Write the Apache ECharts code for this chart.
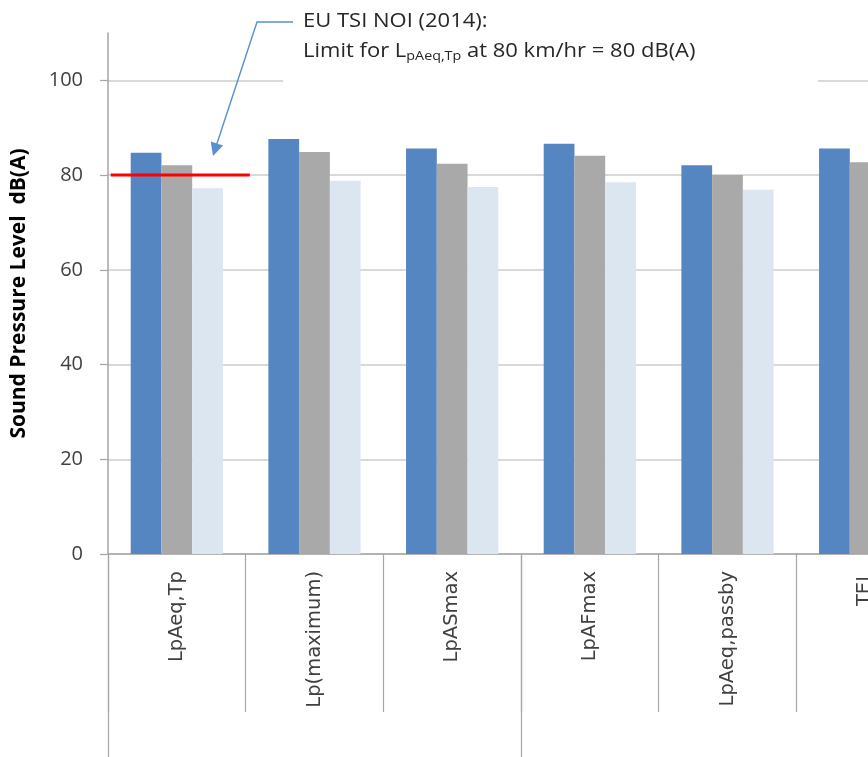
<!DOCTYPE html>
<html>
<head>
<meta charset="utf-8">
<script src="https://cdn.jsdelivr.net/npm/echarts@6/dist/echarts.min.js"></script>
<style>
  html, body { margin: 0; padding: 0; background: #ffffff; }
  #chart { width: 868px; height: 757px; }
</style>
</head>
<body>
<div id="chart"></div>
<script>
// Noise descriptors measured for the pass-by
const categories = ['LpAeq,Tp', 'Lp(maximum)', 'LpASmax', 'LpAFmax', 'LpAeq,passby', 'TEL'];
// Outer grouping level of the category axis (no labels)
const groups = ['', ''];

// Sound pressure levels, dB(A)
const seriesA = [84.7, 87.6, 85.6, 86.6, 82.1, 85.6];
const seriesB = [82.1, 84.9, 82.4, 84.1, 80.0, 82.7];
const seriesC = [77.2, 78.8, 77.5, 78.5, 76.9, 77.5];

// Labelled values on the level axis
const yTicks = [0, 20, 40, 60, 80, 100];

// EU TSI NOI (2014) limit for LpAeq,Tp at 80 km/hr
const limitValue = 80;
// Horizontal extent of the limit marker, in category widths (first group)
const limitSpan = [0.02, 1.03];

const chart = echarts.init(document.getElementById('chart'), null, { renderer: 'canvas' });

// The plot runs past the right edge of the page, so the last group is cut off
const GRID = { left: 108, top: 33, width: 826, height: 521 };
const AXIS_GREY = '#a6a6a6';
const GRID_GREY = '#d9d9d9';
const LABEL_FONT = 'Open Sans';

const barStyle = (color) => ({
  type: 'bar',
  xAxisIndex: 0,
  yAxisIndex: 0,
  barGap: '0%',
  barCategoryGap: '33%',
  itemStyle: { color: color },
  emphasis: { disabled: true }
});

const option = {
  animation: false,
  backgroundColor: '#ffffff',
  grid: {
    left: GRID.left, top: GRID.top, width: GRID.width, height: GRID.height,
    containLabel: false,
    outerBoundsMode: 'none'
  },
  xAxis: [
    {
      type: 'category',
      position: 'bottom',
      data: categories,
      boundaryGap: true,
      axisLine: { show: true, lineStyle: { color: AXIS_GREY, width: 1.5 } },
      axisTick: { show: true, length: 158, interval: 0, lineStyle: { color: AXIS_GREY, width: 1.2 } },
      axisLabel: {
        show: true,
        interval: 0,
        rotate: 90,
        margin: 17,
        color: '#404040',
        fontFamily: 'DejaVu Sans',
        fontSize: 19.5
      },
      splitLine: { show: false }
    },
    {
      type: 'category',
      position: 'bottom',
      data: groups,
      boundaryGap: true,
      axisLine: { show: false },
      axisTick: { show: true, length: 205, interval: 0, lineStyle: { color: AXIS_GREY, width: 1.2 } },
      axisLabel: { show: false },
      splitLine: { show: false }
    },
    {
      type: 'value',
      position: 'top',
      min: 0,
      max: categories.length,
      show: false
    }
  ],
  yAxis: [
    {
      type: 'value',
      min: 0,
      max: 110,
      interval: 5,
      name: 'Sound Pressure Level  dB(A)',
      nameLocation: 'middle',
      nameGap: 78,
      nameRotate: 90,
      nameTextStyle: { color: '#000000', fontFamily: LABEL_FONT, fontWeight: 'bold', fontSize: 21 },
      axisLine: { show: true, lineStyle: { color: AXIS_GREY, width: 1.5 } },
      axisTick: { show: true, customValues: yTicks, length: 8, lineStyle: { color: AXIS_GREY, width: 1.2 } },
      axisLabel: {
        customValues: yTicks,
        margin: 25,
        color: '#404040',
        fontFamily: LABEL_FONT,
        fontSize: 20
      },
      splitLine: { show: true, lineStyle: { color: GRID_GREY, width: 2 } }
    }
  ],
  series: [
    Object.assign(barStyle('#5586c2'), { name: 'A', data: seriesA }),
    Object.assign(barStyle('#a9a9a9'), { name: 'B', data: seriesB }),
    Object.assign(barStyle('#dce6f1'), { name: 'C', data: seriesC }),
    {
      name: 'Limit',
      type: 'line',
      xAxisIndex: 2,
      yAxisIndex: 0,
      z: 10,
      symbol: 'none',
      silent: true,
      lineStyle: { color: '#ff0000', width: 3 },
      data: [[limitSpan[0], limitValue], [limitSpan[1], limitValue]]
    }
  ],
  graphic: [
    // white panel behind the annotation text
    {
      type: 'rect',
      z: 50,
      silent: true,
      shape: { x: 283, y: 0, width: 535, height: 92 },
      style: { fill: '#ffffff' }
    },
    {
      type: 'text',
      z: 51,
      x: 303,
      y: 21,
      scaleX: 1.1,
      style: {
        text: 'EU TSI NOI (2014):',
        fill: '#262626',
        font: '20px "Open Sans"',
        verticalAlign: 'middle'
      }
    },
    {
      type: 'text',
      z: 51,
      x: 303,
      y: 51,
      scaleX: 1.1,
      style: {
        text: '{a|Limit for L}{s|pAeq,Tp}{a| at 80 km/hr = 80 dB(A)}',
        verticalAlign: 'middle',
        rich: {
          a: { fill: '#262626', fontFamily: 'Open Sans', fontSize: 20, verticalAlign: 'middle', lineHeight: 24 },
          s: { fill: '#262626', fontFamily: 'Open Sans', fontSize: 13, verticalAlign: 'bottom', lineHeight: 24, padding: [11, 0, 0, 0] }
        }
      }
    },
    // leader line to the limit marker
    {
      type: 'polyline',
      z: 51,
      silent: true,
      shape: { points: [[293, 22], [257, 22], [216.5, 145]] },
      style: { stroke: '#5a8fd0', lineWidth: 1.4, fill: null }
    },
    {
      type: 'polygon',
      z: 51,
      silent: true,
      shape: { points: [[213, 156], [210.7, 141.4], [223.1, 145.5]] },
      style: { fill: '#5a8fd0' }
    }
  ]
};

chart.setOption(option);
</script>
</body>
</html>
